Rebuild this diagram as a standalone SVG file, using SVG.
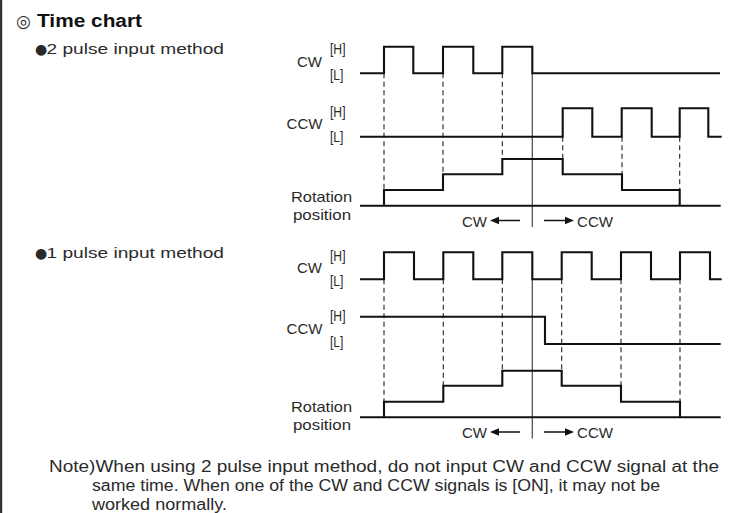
<svg xmlns="http://www.w3.org/2000/svg" width="732" height="513" viewBox="0 0 732 513">
<style>
text{font-family:"Liberation Sans",Arial,sans-serif;fill:#2a2a2a}
.lbl{font-size:15px}
.hl{font-size:15px}
.bul{font-family:"DejaVu Sans",sans-serif;font-size:14px}
.sig{fill:none;stroke:#111;stroke-width:2.1;stroke-linejoin:miter}
.dash{fill:none;stroke:#222;stroke-width:1.1;stroke-dasharray:5 3.5}
.mid{fill:none;stroke:#555;stroke-width:1.3}
.arr{fill:none;stroke:#111;stroke-width:1.3}
.head{fill:#111}
.note{font-size:16px}
</style>
<rect x="0" y="0" width="732" height="513" fill="#fff"/>
<rect x="0" y="0" width="2.2" height="513" fill="#333"/>
<g id="title">
<text x="16" y="26.5" style="font-family:'DejaVu Sans',sans-serif;font-size:17px">◎</text>
<text x="37" y="26.5" style="font-size:17.5px;font-weight:bold;fill:#111" textLength="105" lengthAdjust="spacingAndGlyphs">Time chart</text>
</g>
<g id="chart1">
<g id="heading1"><text x="35" y="53.5" class="bul">●</text><text x="46.5" y="53.5" class="lbl" textLength="177.5" lengthAdjust="spacingAndGlyphs">2 pulse input method</text></g>
<g id="cw1-label"><text x="297" y="66.5" class="lbl" textLength="25" lengthAdjust="spacingAndGlyphs">CW</text><text x="330" y="54" class="hl" textLength="15.5" lengthAdjust="spacingAndGlyphs">[H]</text><text x="330" y="79.5" class="hl" textLength="13.5" lengthAdjust="spacingAndGlyphs">[L]</text></g>
<g id="ccw1-label"><text x="286.5" y="129" class="lbl" textLength="36" lengthAdjust="spacingAndGlyphs">CCW</text><text x="330" y="117" class="hl" textLength="15.5" lengthAdjust="spacingAndGlyphs">[H]</text><text x="330" y="142" class="hl" textLength="13.5" lengthAdjust="spacingAndGlyphs">[L]</text></g>
<g id="rot1-label"><text x="291" y="201.5" class="lbl" textLength="61" lengthAdjust="spacingAndGlyphs">Rotation</text><text x="293" y="219.5" class="lbl" textLength="58" lengthAdjust="spacingAndGlyphs">position</text></g>
<g id="connectors1">
<path class="dash" d="M384,73.3V190M443,73.3V174.3M502.3,73.3V159M562.7,136.7V159M622,136.7V174.3M679.7,136.7V190"/>
<path class="mid" d="M532.3,73.3V227"/>
<path class="sig" d="M360,73.3H384V46.7H413.3V73.3H443V46.7H473.3V73.3H502.3V46.7H532.3V73.3H720"/>
<path class="sig" d="M360,136.7H562.7V108.3H592.3V136.7H621.7V108.3H651.7V136.7H679.7V108.3H708.3V136.7H721.7"/>
<path class="sig" d="M360,205.7H720.7M384,205.7V190H443V174.3H502.3V159H562.7V174.3H622V190H679.7V205.7"/>
<path class="arr" d="M520,220.5H497M544,220.5H567"/>
<polygon class="head" points="490,220.5 499,216.8 499,224.2"/>
<polygon class="head" points="574,220.5 565,216.8 565,224.2"/>
</g>
<text x="462" y="226.5" class="lbl" textLength="25" lengthAdjust="spacingAndGlyphs">CW</text>
<text x="577" y="226.5" class="lbl" textLength="36" lengthAdjust="spacingAndGlyphs">CCW</text>
</g>
<g id="chart2">
<g id="heading2"><text x="35" y="257.5" class="bul">●</text><text x="46.5" y="257.5" class="lbl" textLength="177.5" lengthAdjust="spacingAndGlyphs">1 pulse input method</text></g>
<g id="cw2-label"><text x="297" y="272.5" class="lbl" textLength="25" lengthAdjust="spacingAndGlyphs">CW</text><text x="330" y="260.5" class="hl" textLength="15.5" lengthAdjust="spacingAndGlyphs">[H]</text><text x="330" y="286" class="hl" textLength="13.5" lengthAdjust="spacingAndGlyphs">[L]</text></g>
<g id="ccw2-label"><text x="286.5" y="334" class="lbl" textLength="36" lengthAdjust="spacingAndGlyphs">CCW</text><text x="330" y="321" class="hl" textLength="15.5" lengthAdjust="spacingAndGlyphs">[H]</text><text x="330" y="346.5" class="hl" textLength="13.5" lengthAdjust="spacingAndGlyphs">[L]</text></g>
<g id="rot2-label"><text x="291" y="412" class="lbl" textLength="61" lengthAdjust="spacingAndGlyphs">Rotation</text><text x="293" y="430" class="lbl" textLength="58" lengthAdjust="spacingAndGlyphs">position</text></g>
<g id="connectors2">
<path class="dash" d="M384,279.3V401.7M443.3,279.3V385.7M502.3,279.3V370.7M561.7,279.3V370.7M621,279.3V385.7M680,279.3V401.7"/>
<path class="mid" d="M532.3,279.3V438.5"/>
<path class="sig" d="M360,279.3H384V252.3H414V279.3H443.3V252.3H473.3V279.3H502.3V252.3H532.3V279.3H561.7V252.3H591.7V279.3H621V252.3H651V279.3H680V252.3H710V279.3H721.7"/>
<path class="sig" d="M360,316.7H545V344H720.7"/>
<path class="sig" d="M360,417.3H720.7M384,417.3V401.7H443.3V385.7H502.3V370.7H561.7V385.7H621V401.7H680V417.3"/>
<path class="arr" d="M520,432H497M544,432H567"/>
<polygon class="head" points="490,432 499,428.3 499,435.7"/>
<polygon class="head" points="574,432 565,428.3 565,435.7"/>
</g>
<text x="462" y="438" class="lbl" textLength="25" lengthAdjust="spacingAndGlyphs">CW</text>
<text x="577" y="438" class="lbl" textLength="36" lengthAdjust="spacingAndGlyphs">CCW</text>
</g>
<g id="note">
<text x="49" y="472" class="note" textLength="670" lengthAdjust="spacingAndGlyphs">Note)When using 2 pulse input method, do not input CW and CCW signal at the</text>
<text x="92" y="491" class="note" textLength="568" lengthAdjust="spacingAndGlyphs">same time. When one of the CW and CCW signals is [ON], it may not be</text>
<text x="92" y="510" class="note" textLength="135" lengthAdjust="spacingAndGlyphs">worked normally.</text>
</g>
</svg>
